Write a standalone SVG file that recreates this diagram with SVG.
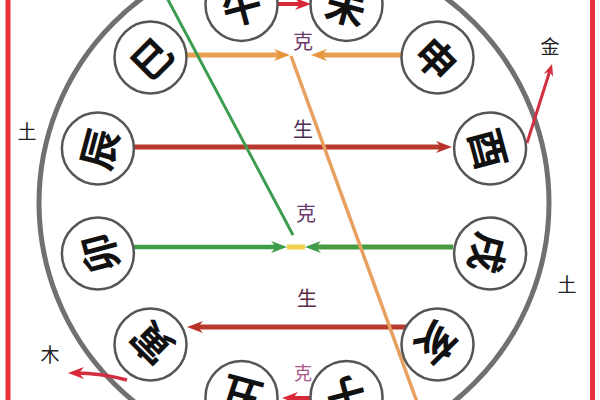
<svg xmlns="http://www.w3.org/2000/svg" width="600" height="400" viewBox="0 0 600 400">
<defs>
<style>
.node circle{fill:#fff;stroke:#555;stroke-width:2.5}
.node text{font-family:"Noto Sans CJK SC","Noto Sans CJK JP",sans-serif;font-size:40px;font-weight:700;fill:#111;text-anchor:middle;dominant-baseline:central}
.lbl{font-family:"Noto Sans CJK SC","Noto Sans CJK JP",sans-serif;font-size:20px;text-anchor:middle;dominant-baseline:central}
.out{font-family:"Noto Sans CJK SC","Noto Sans CJK JP",sans-serif;font-size:19px;fill:#222;text-anchor:middle;dominant-baseline:central}
.ln{fill:none;stroke-linecap:butt}
</style>
<marker id="ar-red" viewBox="0 0 16 12" markerWidth="16" markerHeight="12" refX="8" refY="6" orient="auto" markerUnits="userSpaceOnUse"><path d="M0,0 L16,6 L0,12 L5,6 z" fill="#b8322a"/></marker>
<marker id="ar-bright" viewBox="0 0 16 12" markerWidth="16" markerHeight="12" refX="8" refY="6" orient="auto" markerUnits="userSpaceOnUse"><path d="M0,0 L16,6 L0,12 L5,6 z" fill="#d8283a"/></marker>
<marker id="ar-bright-s" viewBox="0 0 12 10" markerWidth="12" markerHeight="10" refX="6" refY="5" orient="auto" markerUnits="userSpaceOnUse"><path d="M0,0 L12,5 L0,10 L4,5 z" fill="#d23040"/></marker>
<marker id="ar-orange" viewBox="0 0 16 12" markerWidth="16" markerHeight="12" refX="8" refY="6" orient="auto" markerUnits="userSpaceOnUse"><path d="M0,0 L16,6 L0,12 L5,6 z" fill="#e8963e"/></marker>
<marker id="ar-green" viewBox="0 0 16 12" markerWidth="16" markerHeight="12" refX="8" refY="6" orient="auto" markerUnits="userSpaceOnUse"><path d="M0,0 L16,6 L0,12 L5,6 z" fill="#3c9c48"/></marker>
</defs>
<rect width="600" height="400" fill="#fff"/>
<g id="frame">
<line x1="8" y1="0" x2="8" y2="400" stroke="#e8303c" stroke-width="5"/>
<line x1="592.5" y1="0" x2="592.5" y2="400" stroke="#e8303c" stroke-width="5"/>
<circle cx="294" cy="203" r="255" fill="none" stroke="#707070" stroke-width="5"/>
</g>
<g id="connectors">
<line class="ln" x1="278" y1="4" x2="303" y2="4" stroke="#d8283a" stroke-width="4" marker-end="url(#ar-bright)"/>
<line class="ln" x1="186" y1="55" x2="282" y2="55" stroke="#e8a050" stroke-width="5" marker-end="url(#ar-orange)"/>
<line class="ln" x1="401" y1="55" x2="319" y2="55" stroke="#e8a050" stroke-width="5" marker-end="url(#ar-orange)"/>
<line class="ln" x1="134" y1="147" x2="444" y2="147" stroke="#b83a2e" stroke-width="5" marker-end="url(#ar-red)"/>
<line class="ln" x1="527" y1="143" x2="550.2" y2="69.7" stroke="#d23040" stroke-width="3" marker-end="url(#ar-bright-s)"/>
<line class="ln" x1="287" y1="247" x2="305" y2="247" stroke="#f2d24a" stroke-width="5"/>
<line class="ln" x1="134" y1="247" x2="279" y2="247" stroke="#3c9c48" stroke-width="4.5" marker-end="url(#ar-green)"/>
<line class="ln" x1="453" y1="247" x2="313" y2="247" stroke="#4a9a44" stroke-width="5" marker-end="url(#ar-green)"/>
<line class="ln" x1="406" y1="327" x2="195" y2="327" stroke="#b83a2e" stroke-width="5" marker-end="url(#ar-red)"/>
<path class="ln" d="M127,380 Q100,373 76,373" stroke="#d23040" stroke-width="3.5" marker-end="url(#ar-bright)"/>
<line class="ln" x1="311" y1="398" x2="290" y2="398" stroke="#d8283a" stroke-width="4" marker-end="url(#ar-bright)"/>
<line class="ln" x1="166" y1="-4" x2="293" y2="235" stroke="#3c9c50" stroke-width="3"/>
<line class="ln" x1="291" y1="56" x2="417" y2="402" stroke="#e8a060" stroke-width="3.5"/>
</g>
<g id="labels">
<text class="lbl" x="303" y="40" fill="#6a3a6a">克</text>
<text class="lbl" x="303" y="128" fill="#4a3050">生</text>
<text class="lbl" x="306" y="212" fill="#6a3a6a">克</text>
<text class="lbl" x="307" y="297" fill="#5a2a4a">生</text>
<text class="lbl" x="303" y="372" fill="#a85888" style="font-size:18px">克</text>
<text class="out" x="27" y="130">土</text>
<text class="out" x="567" y="283">土</text>
<text class="out" x="550" y="45">金</text>
<text class="out" x="50" y="353">木</text>
</g>
<g id="node-wu" class="node" transform="translate(241.5,4.9)"><circle r="36"/><text transform="rotate(-15)">午</text></g>
<g id="node-wei" class="node" transform="translate(346.5,4.9)"><circle r="36"/><text transform="rotate(15)">未</text></g>
<g id="node-shen" class="node" transform="translate(437.5,57.5)"><circle r="36"/><text transform="rotate(45)">申</text></g>
<g id="node-you" class="node" transform="translate(490.1,148.5)"><circle r="36"/><text transform="rotate(75)">酉</text></g>
<g id="node-xu" class="node" transform="translate(490.1,253.5)"><circle r="36"/><text transform="rotate(105)">戌</text></g>
<g id="node-hai" class="node" transform="translate(437.5,344.5)"><circle r="36"/><text transform="rotate(135)">亥</text></g>
<g id="node-zi" class="node" transform="translate(346.5,397.1)"><circle r="36"/><text transform="rotate(165)">子</text></g>
<g id="node-chou" class="node" transform="translate(241.5,397.1)"><circle r="36"/><text transform="rotate(195)">丑</text></g>
<g id="node-yin" class="node" transform="translate(150.5,344.5)"><circle r="36"/><text transform="rotate(225)">寅</text></g>
<g id="node-mao" class="node" transform="translate(97.9,253.5)"><circle r="36"/><text transform="rotate(255)">卯</text></g>
<g id="node-chen" class="node" transform="translate(97.9,148.5)"><circle r="36"/><text transform="rotate(285)">辰</text></g>
<g id="node-si" class="node" transform="translate(150.5,57.5)"><circle r="36"/><text transform="rotate(315)">巳</text></g>
</svg>
